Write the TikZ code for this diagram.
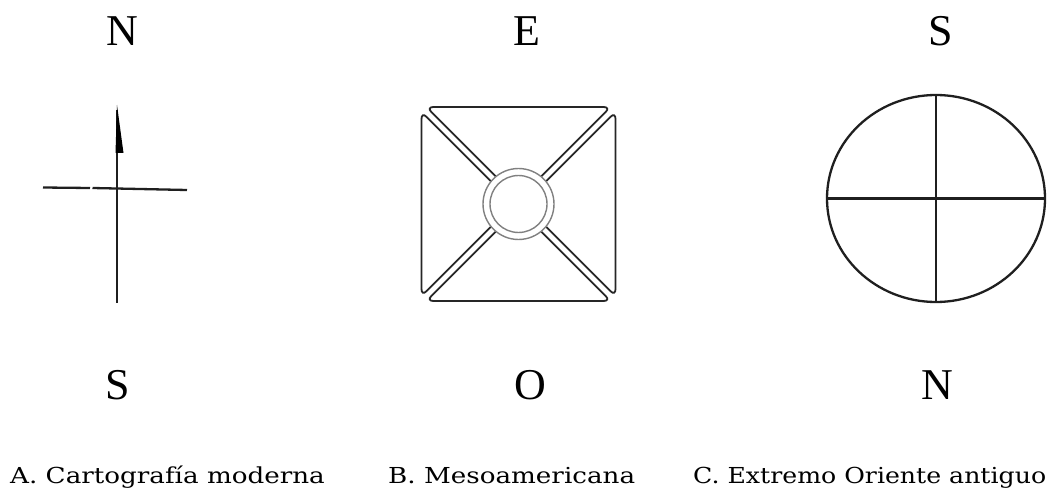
\documentclass[tikz,border=0pt]{standalone}
\usepackage{fontspec}
\usetikzlibrary{shapes.geometric}
\setmainfont{Liberation Serif}
\newfontfamily\dirfont{Liberation Serif}
\newfontfamily\capfont{DejaVu Serif}
\newcommand\capbox[2][1.19]{\scalebox{#1}[1]{#2}}
\begin{document}
\begin{tikzpicture}[x=1pt,y=-1pt,
  dirlet/.style={font=\dirfont\fontsize{44}{44}\selectfont, anchor=base, inner sep=0pt},
  captxt/.style={font=\capfont\fontsize{22}{22}\selectfont, anchor=base west, inner sep=0pt},
  ink/.style={line width=2.3pt, black!88},
  quadline/.style={line width=1.8pt, black!85},
  ring/.style={line width=1.4pt, black!50}]
\useasboundingbox (0,0) rectangle (1057,489);
% ---------- direction letters
\node[dirlet] (an) at (122,46) {N};
\node[dirlet] (as) at (118,399) {S};
\node[dirlet] (be) at (527,46) {E};
\node[dirlet] (bo) at (530,399) {O};
\node[dirlet] (cs) at (941,46) {S};
\node[dirlet] (cn) at (937,399) {N};
% ---------- captions
\node[captxt] (ca) at (10,483) {\capbox{A. Cartografía moderna}};
\node[captxt] (cb) at (388,483) {\capbox{B. Mesoamericana}};
\node[captxt] (cc) at (693,483) {\capbox[1.145]{C. Extremo Oriente antiguo}};
% ---------- A: modern cross with arrow
\coordinate (atop) at (117,110);
\coordinate (abot) at (117,303);
\draw[ink] (atop) -- (abot);
\fill[black] (117,105) -- (123.5,153) -- (115.5,153) -- cycle;
\draw[ink] (43,187.5) -- (90,188);
\draw[ink] (92.5,188) -- (187,190);
% ---------- B: Mesoamerican quadrants
\begin{scope}[shift={(518.5,204)}]
  \def\hh{97}\def\gg{3.4}\def\RR{36}
  \pgfmathsetmacro\dd{asin(\gg/\RR)}
  \pgfmathsetmacro\cc{\hh-\gg*1.41421}
  % top
  \draw[quadline, rounded corners=7pt] ({-135+\dd}:\RR) -- (-\cc,-\hh) -- (\cc,-\hh) -- ({-45-\dd}:\RR);
  % bottom
  \draw[quadline, rounded corners=7pt] ({135-\dd}:\RR) -- (-\cc,\hh) -- (\cc,\hh) -- ({45+\dd}:\RR);
  % left
  \draw[quadline, rounded corners=7pt] ({-135-\dd}:\RR) -- (-\hh,-\cc) -- (-\hh,\cc) -- ({135+\dd}:\RR);
  % right
  \draw[quadline, rounded corners=7pt] ({-45+\dd}:\RR) -- (\hh,-\cc) -- (\hh,\cc) -- ({45-\dd}:\RR);
  \node[draw, ring, circle, minimum size=71pt, inner sep=0pt] (bout) at (0,0) {};
  \node[draw, ring, circle, minimum size=57pt, inner sep=0pt] (bin) at (0,0) {};
\end{scope}
% ---------- C: ancient far east
\node[draw, ink, ellipse, minimum width=218pt, minimum height=207pt, inner sep=0pt] (cel) at (936,198.5) {};
\draw[ink] (cel.north) -- (cel.south);
\draw[ink] (cel.west) -- (cel.east);
\end{tikzpicture}
\end{document}
